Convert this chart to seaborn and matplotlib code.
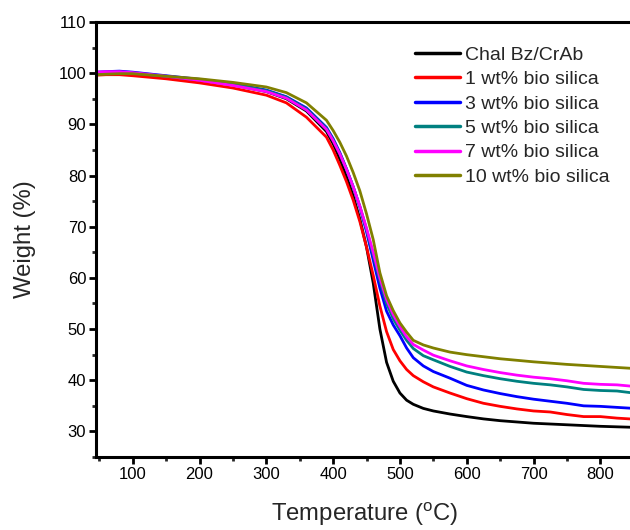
import numpy as np
import pandas as pd
import matplotlib
matplotlib.use("Agg")
import matplotlib.pyplot as plt
import seaborn as sns
from matplotlib.ticker import MultipleLocator

temperature = [45, 60, 80, 100, 150, 200, 250, 300, 330, 360, 390, 400, 410, 420, 430, 440,
               450, 460, 470, 480, 490, 500, 510, 520, 535, 550, 575, 600, 625, 650, 675, 700,
               725, 750, 775, 800, 825, 850]

chal = [99.8, 99.9, 100.0, 99.9, 99.3, 98.6, 97.7, 96.4, 95.0, 92.6, 88.6, 86.2, 83.2, 79.8, 76.0, 71.5,
        66.0, 59.0, 50.0, 43.5, 39.8, 37.5, 36.1, 35.3, 34.5, 34.0, 33.4, 32.9, 32.45, 32.1, 31.85, 31.6,
        31.45, 31.3, 31.15, 31.0, 30.9, 30.8]
bio1 = [99.6, 99.7, 99.7, 99.5, 98.9, 98.1, 97.1, 95.7, 94.2, 91.4, 87.5, 85.0, 82.0, 78.8, 75.2, 71.0,
        66.0, 60.5, 54.5, 49.5, 46.0, 43.8, 42.1, 40.9, 39.7, 38.7, 37.5, 36.4, 35.5, 34.9, 34.4, 34.0,
        33.8, 33.3, 32.9, 32.9, 32.6, 32.4]
bio3 = [100.2, 100.3, 100.4, 100.2, 99.5, 98.8, 97.9, 96.7, 95.4, 93.2, 89.4, 87.2, 84.5, 81.3, 77.8, 73.8,
        69.0, 63.5, 58.0, 53.5, 50.8, 48.7, 46.3, 44.4, 42.8, 41.7, 40.4, 39.0, 38.1, 37.4, 36.8, 36.3,
        35.9, 35.5, 35.0, 34.9, 34.7, 34.5]
bio5 = [100.0, 100.1, 100.2, 100.0, 99.4, 98.7, 97.8, 96.6, 95.3, 93.0, 89.2, 87.0, 84.3, 81.2, 77.8, 74.0,
        69.5, 64.5, 59.5, 55.0, 52.0, 49.8, 47.8, 46.2, 44.8, 44.0, 42.7, 41.6, 40.9, 40.3, 39.8, 39.4,
        39.1, 38.7, 38.2, 38.0, 37.9, 37.5]
bio7 = [100.2, 100.3, 100.3, 100.1, 99.4, 98.6, 97.6, 96.4, 95.1, 92.8, 89.0, 86.8, 84.2, 81.2, 77.8, 74.0,
        69.7, 65.0, 60.0, 55.8, 52.8, 50.5, 48.5, 47.0, 45.9, 44.9, 43.8, 42.8, 42.1, 41.5, 41.0, 40.6,
        40.3, 39.9, 39.4, 39.2, 39.1, 38.8]
bio10 = [99.7, 99.8, 99.9, 99.9, 99.4, 98.9, 98.2, 97.3, 96.2, 94.2, 90.8, 88.8, 86.5, 83.8, 80.6, 77.0,
         72.5, 67.5, 61.0, 56.5, 53.6, 51.2, 49.4, 47.8, 46.9, 46.3, 45.5, 45.0, 44.6, 44.2, 43.9, 43.6,
         43.35, 43.1, 42.9, 42.7, 42.5, 42.3]

labels = ["Chal Bz/CrAb", "1 wt% bio silica", "3 wt% bio silica",
          "5 wt% bio silica", "7 wt% bio silica", "10 wt% bio silica"]
colors = ["#000000", "#FF0000", "#0000FF", "#008080", "#FF00FF", "#808000"]
series = [chal, bio1, bio3, bio5, bio7, bio10]

frames = [pd.DataFrame({"Temperature": temperature, "Weight": s, "Sample": lab})
          for s, lab in zip(series, labels)]
df = pd.concat(frames, ignore_index=True)

sns.set_theme(style="ticks")
plt.rcParams["font.family"] = ["Liberation Sans", "DejaVu Sans"]
plt.rcParams["mathtext.fontset"] = "custom"
plt.rcParams["mathtext.rm"] = "Liberation Sans"

fig = plt.figure(figsize=(6.3, 5.3), dpi=100)
ax = fig.add_axes([0.1524, 0.1377, 0.8535, 0.8208])

sns.lineplot(data=df, x="Temperature", y="Weight", hue="Sample", hue_order=labels,
             palette=colors, linewidth=2.0, ax=ax, sort=False)

ax.set_xlim(45, 850)
ax.set_ylim(25, 110)
ax.xaxis.set_major_locator(MultipleLocator(100))
ax.xaxis.set_minor_locator(MultipleLocator(50))
ax.yaxis.set_major_locator(MultipleLocator(10))
ax.yaxis.set_minor_locator(MultipleLocator(5))
ax.set_xticks([100, 200, 300, 400, 500, 600, 700, 800])

for sp in ax.spines.values():
    sp.set_linewidth(2.2)
    sp.set_color("black")
ax.spines["right"].set_visible(False)

ax.tick_params(axis="both", which="major", direction="out", length=5, width=2.0,
               labelsize=12, colors="black", pad=2)
ax.tick_params(axis="both", which="minor", direction="out", length=3, width=2.0)
ax.tick_params(top=False, right=False, which="both")

ax.set_xlabel(r"Temperature ($\mathregular{^{o}}$C)", fontsize=17.2, labelpad=14)
ax.set_ylabel("Weight (%)", fontsize=17.2, labelpad=16)

leg = ax.legend(loc="upper left", bbox_to_anchor=(0.659, 0.913), bbox_transform=fig.transFigure,
                frameon=False, fontsize=14, handlelength=2.3, handletextpad=0.26,
                labelspacing=0.35, borderaxespad=0, borderpad=0)
for line in leg.get_lines():
    line.set_linewidth(2.5)

fig.savefig("out.png", dpi=100)
